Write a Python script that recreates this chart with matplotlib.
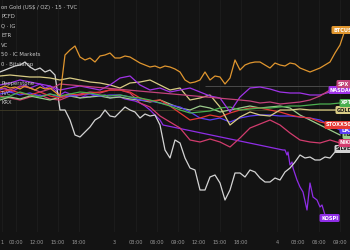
import numpy as np
import matplotlib
matplotlib.use("Agg")
import matplotlib.pyplot as plt

plt.rcParams.update({
    'font.family': 'DejaVu Sans',
    'figure.facecolor': '#131313',
    'axes.facecolor': '#131313',
})

# --- Datos: % de variación (una muestra cada 5 o 10 barras) ---
btc = [0.35, 0.45, 0.35, 0.40, 0.30, 0.45, 0.35, 0.25, 0.40, 0.30,
       0.35, 0.15, -0.05, 2.00, 2.25, 2.45, 1.90, 1.75, 1.85, 1.65,
       1.95, 2.00, 2.10, 1.85, 1.85, 1.95, 1.90, 1.75, 1.60, 1.50,
       1.40, 1.45, 1.35, 1.45, 1.40, 1.30, 1.15, 0.75, 0.60, 0.65,
       0.75, 1.15, 0.75, 0.95, 0.90, 0.55, 0.85, 1.75, 1.25, 1.50,
       1.60, 1.65, 1.65, 1.50, 1.35, 1.60, 1.50, 1.45, 1.60, 1.55,
       1.35, 1.25, 1.15, 1.25, 1.35, 1.50, 1.65, 2.10, 2.50, 3.25]

silver = [1.15, 1.25, 1.35, 1.45, 1.50, 1.65, 1.40, 1.25, 1.35, 1.15,
          1.25, 1.00, -0.75, -0.75, -1.25, -2.00, -2.10, -1.85, -1.60, -1.25,
          -1.10, -0.75, -1.05, -1.10, -0.85, -0.60, -0.75, -0.85, -1.15, -0.95,
          -1.05, -1.00, -1.50, -2.75, -3.15, -2.25, -2.40, -3.15, -3.65, -3.75,
          -4.75, -4.75, -4.10, -4.00, -4.40, -5.25, -4.75, -3.90, -3.90, -4.10,
          -3.75, -3.85, -4.15, -4.35, -4.35, -4.15, -4.25, -3.85, -3.65, -3.35,
          -3.00, -3.15, -3.10, -3.25, -3.25, -3.10, -3.15, -2.85, -2.70]

# KOSPI: hueco de datos (mercado cerrado) -> barras explícitas
kospi_bar = [0, 5, 10, 15, 20, 25, 30, 35, 40, 45, 50, 55, 60, 65, 70, 75, 80,
             85, 90, 95, 100, 105, 110, 115, 120, 125, 130, 135, 140, 145, 150,
             155, 160, 163, 283, 285, 287, 288, 290, 292, 293, 297, 300, 303,
             307, 310, 313, 317, 320, 322, 325, 328]
kospi = [0.25, 0.35, 0.15, 0.25, 0.40, 0.50, 0.35, 0.45, 0.55, 0.35,
         0.45, 0.25, 0.00, 0.15, 0.05, -0.05, -0.15, -0.05, -0.10, 0.00,
         -0.05, 0.00, -0.15, -0.10, -0.10, -0.20, -0.25, -0.30, -0.40, -0.55,
         -0.75, -1.00, -1.25, -1.50, -2.75, -2.75, -3.00, -2.85, -3.50, -3.35,
         -3.65, -4.25, -4.60, -4.85, -5.75, -4.40, -5.10, -5.25, -5.60, -5.50,
         -6.00, -6.15]

spx_bar = [0, 10, 20, 30, 40, 50, 60, 240, 250, 260, 270, 280, 290, 300,
           310, 320, 330, 340]
spx = [0.35, 0.25, 0.45, 0.35, 0.15, 0.30, 0.55, -0.25, -0.30, -0.40,
       -0.35, -0.45, -0.40, -0.35, -0.25, -0.05, 0.25, 0.55]

nasdaq = [0.50, 0.60, 0.75, 0.65, 0.55, 0.45, 0.25, 0.35, 0.45, 0.35,
          0.25, 0.50, 0.85, 0.95, 0.50, 0.25, 0.35, 0.15, 0.25, 0.35,
          0.15, -0.05, -0.15, -0.85, -0.10, 0.35, 0.40, 0.30, 0.15, 0.10,
          0.10, 0.00, 0.00, 0.15, 0.25]

xpt = [-0.15, -0.05, 0.15, 0.00, -0.10, 0.05, -0.05, 0.05, 0.15, 0.10,
       0.00, -0.05, 0.00, -0.10, -0.15, -0.25, -0.40, -0.55, -0.75, -0.90,
       -0.85, -0.80, -0.65, -0.60, -0.75, -0.70, -0.65, -0.65, -0.60, -0.55,
       -0.55, -0.50, -0.45, -0.45, -0.40]

gold = [0.95, 1.00, 0.95, 0.90, 0.90, 0.85, 0.75, 0.85, 0.75, 0.65,
        0.60, 0.50, 0.35, 0.60, 0.65, 0.75, 0.50, 0.25, 0.35, -0.25,
        -0.15, 0.00, -0.60, -1.50, -1.10, -0.85, -1.00, -1.05, -0.75, -0.75,
        -0.70, -0.75, -0.75, -0.75, -0.75]

stoxx = [0.15, 0.25, 0.10, 0.00, 0.15, -0.05, -0.15, 0.05, 0.00, 0.10,
         0.15, 0.25, 0.25, 0.15, -0.15, -0.30, -0.25, -0.55, -0.90, -1.25,
         -1.15, -1.00, -1.10, -0.90, -0.75, -0.65, -0.65, -0.75, -0.85, -1.00,
         -1.10, -1.15, -1.35, -1.45, -1.50]

dax = [0.05, 0.15, 0.00, 0.10, -0.05, 0.05, -0.10, -0.05, 0.00, 0.05,
       -0.05, 0.00, 0.00, -0.10, -0.25, -0.30, -0.40, -0.50, -0.60, -0.85,
       -1.15, -1.25, -1.15, -1.35, -1.15, -1.05, -1.00, -1.00, -1.05, -1.05,
       -1.10, -1.15, -1.25, -1.50, -1.75]

hsi = [-0.25, -0.10, -0.20, -0.05, -0.15, -0.25, -0.10, -0.05, -0.15, -0.10,
       -0.05, -0.15, -0.10, -0.20, -0.25, -0.35, -0.25, -0.45, -0.65, -0.75,
       -0.55, -0.65, -0.85, -0.75, -0.65, -0.55, -0.65, -0.60, -0.55, -0.65,
       -1.00, -1.25, -1.50, -1.75, -2.00]

nikkei = [-0.05, -0.15, -0.25, -0.10, 0.00, -0.20, -0.25, -0.05, 0.05, 0.15,
          0.10, 0.25, 0.25, 0.10, -0.40, -0.60, -1.05, -1.35, -1.65, -2.25,
          -2.35, -2.20, -2.35, -2.60, -2.15, -1.65, -1.45, -1.25, -1.50, -1.90,
          -2.25, -2.35, -2.40, -2.25, -2.40]

# Eje temporal (índice de barra) y etiquetas
tick_bar = [2, 16, 37, 58, 79, 114, 136, 157, 178, 199, 220, 241, 277, 298, 319, 340]
tick_txt = ['1', '00:00', '12:00', '15:00', '18:00', '3', '03:00', '06:00',
            '09:00', '12:00', '15:00', '18:00', '4', '03:00', '06:00', '09:00']

leyenda = ['on Gold (US$ / OZ) · 15 · TVC', 'PCFD', 'Q · IG', 'ETR', 'VC',
           '50 · IC Markets', '0 · Bitstamp', '', 'Pepperstone', 'TVC', 'KRX']

lineas_precio = [0.45, -0.75]

# (nombre, barras, valores, color línea, color texto etiqueta, x etiqueta)
SERIES = [
    ('KOSPI',   kospi_bar, kospi, '#8f2de6', 'white',   321),
    ('SILVER',  None, silver,     '#d4d4d4', '#131313', 336),
    ('NIKKEI',  None, nikkei,     '#d23c6e', 'white',   340),
    ('HSI',     None, hsi,        '#9ccc8c', '#131313', 344),
    ('DAX',     None, dax,        '#5b3df5', 'white',   341),
    ('STOXX50', None, stoxx,      '#e53935', 'white',   326),
    ('GOLD',    None, gold,       '#d9cc85', '#131313', 337),
    ('XPTUSD',  None, xpt,        '#4caf50', 'white',   341),
    ('NASDAQ',  None, nasdaq,     '#a033e8', 'white',   330),
    ('SPX',     spx_bar, spx,     '#c2437a', 'white',   338),
    ('BTCUSD',  None, btc,        '#e0962f', 'white',   333),
]

fig = plt.figure(figsize=(3.5, 2.5), dpi=100)
ax = fig.add_axes([0, 18 / 250, 1, 232 / 250])

for b in tick_bar:
    ax.axvline(b, color='#1d1d1d', linewidth=0.6, zorder=0)

ax.hlines(lineas_precio[0], 205, 350, color='#4a4a4a', linewidth=0.7, zorder=1)
ax.axhline(lineas_precio[1], color='#3a3724', linewidth=0.7, zorder=1)

for nombre, barras, vals, color, tcolor, xlab in SERIES:
    if barras is None:
        paso = 5 if len(vals) > 40 else 10
        barras = np.arange(len(vals)) * paso
    ax.plot(barras, vals, color=color, linewidth=0.9, zorder=3)
    ax.text(xlab, vals[-1], nombre, color=tcolor, fontsize=3.6,
            fontweight='bold', ha='left', va='center', zorder=6,
            bbox=dict(boxstyle='round,pad=0.3', facecolor=color,
                      edgecolor='none'))

ax.set_xlim(0, 350)
ax.set_ylim(-6.85, 4.75)
ax.set_xticks(tick_bar)
ax.set_xticklabels(tick_txt)
ax.tick_params(axis='x', length=0, pad=6, labelsize=3.6, colors='#9a9a9a')
ax.set_yticks([])
for s in ax.spines.values():
    s.set_visible(False)

for i, txt in enumerate(leyenda):
    if txt:
        fig.text(0.004, 1 - (7 + i * 9.6) / 250, txt, color='#c8c8c8',
                 fontsize=3.8, ha='left', va='center', zorder=10)

fig.savefig('out.png', dpi=100, facecolor='#131313')
